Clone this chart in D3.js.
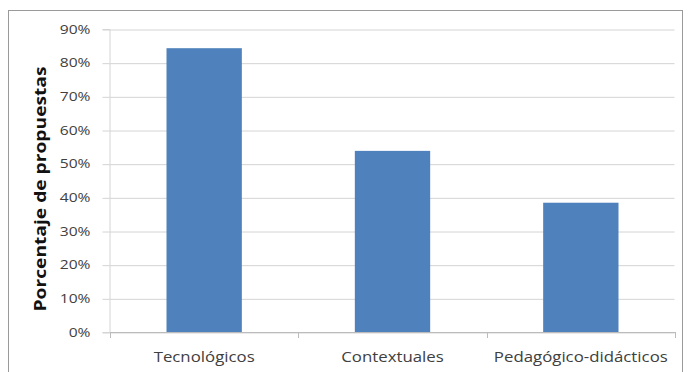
<!DOCTYPE html>
<html>
<head>
<meta charset="utf-8">
<script src="https://cdn.jsdelivr.net/npm/d3@7"></script>
<style>
  html, body { margin: 0; padding: 0; background: #fff; }
  svg { display: block; }
</style>
</head>
<body>
<svg id="chart" width="688" height="372"></svg>
<script>
// Categories and share of proposals in each
const categories = ["Tecnológicos", "Contextuales", "Pedagógico-didácticos"];
const values = [0.843, 0.538, 0.384];
const yTicks = [0, 0.1, 0.2, 0.3, 0.4, 0.5, 0.6, 0.7, 0.8, 0.9];
const yTitle = "Porcentaje de propuestas";

const svg = d3.select("#chart");
const plot = { left: 110, right: 675, top: 29, bottom: 332 };
const FONT = "'Open Sans', sans-serif";

// Widen text slightly to the chart's wide label face
function widen(sel, factor) {
  sel.each(function () {
    const w = this.getComputedTextLength();
    d3.select(this)
      .attr("textLength", w * factor)
      .attr("lengthAdjust", "spacingAndGlyphs");
  });
}

// Outer chart frame
svg.append("rect")
  .attr("x", 8.5).attr("y", 10.5)
  .attr("width", 674).attr("height", 372)
  .attr("fill", "#fff")
  .attr("stroke", "#9a9a9a")
  .attr("stroke-width", 1);

const x = d3.scaleBand()
  .domain(categories)
  .range([plot.left, plot.right])
  .paddingInner(0.6)
  .paddingOuter(0.3);

const y = d3.scaleLinear()
  .domain([0, 0.9])
  .range([plot.bottom, plot.top]);

// Horizontal gridlines with short outer ticks
const yAxis = d3.axisLeft(y)
  .tickValues(yTicks)
  .tickFormat(d3.format(".0%"))
  .tickSize(7)
  .tickPadding(12);

const gy = svg.append("g")
  .attr("transform", `translate(${plot.left - 0.5},0)`)
  .call(yAxis);
gy.select(".domain").attr("stroke", "#d4d4d4");
gy.selectAll(".tick line").attr("stroke", "#d4d4d4").attr("transform", "translate(0,0.5)");
gy.selectAll(".tick line").clone()
  .attr("x1", 0).attr("x2", plot.right - plot.left)
  .attr("stroke", "#d4d4d4");
gy.selectAll(".tick text")
  .attr("fill", "#404040")
  .attr("font-family", FONT)
  .attr("font-size", 13)
  .call(widen, 1.2);

// Bars
svg.append("g").selectAll("rect")
  .data(categories)
  .join("rect")
  .attr("x", d => x(d))
  .attr("width", x.bandwidth())
  .attr("y", (d, i) => y(values[i]))
  .attr("height", (d, i) => y(0) - y(values[i]))
  .attr("fill", "#4f81bd");

// Category axis with boundary ticks
const bounds = d3.range(categories.length + 1).map(i => plot.left + i * (plot.right - plot.left) / categories.length);
const gx = svg.append("g");
gx.append("line")
  .attr("x1", plot.left).attr("x2", plot.right)
  .attr("y1", plot.bottom + 0.5).attr("y2", plot.bottom + 0.5)
  .attr("stroke", "#bcbcbc");
gx.selectAll("line.bt")
  .data(bounds)
  .join("line")
  .attr("class", "bt")
  .attr("x1", d => Math.round(d) + 0.5).attr("x2", d => Math.round(d) + 0.5)
  .attr("y1", plot.bottom).attr("y2", plot.bottom + 6)
  .attr("stroke", "#bcbcbc");
gx.selectAll("text")
  .data(categories)
  .join("text")
  .attr("x", d => x(d) + x.bandwidth() / 2)
  .attr("y", 362)
  .attr("text-anchor", "middle")
  .attr("fill", "#404040")
  .attr("font-family", FONT)
  .attr("font-size", 14)
  .text(d => d)
  .call(widen, 1.2);

// Y axis title
svg.append("text")
  .attr("transform", `translate(46,189) rotate(-90)`)
  .attr("text-anchor", "middle")
  .attr("fill", "#111")
  .attr("font-family", FONT)
  .attr("font-weight", "bold")
  .attr("font-size", 16)
  .text(yTitle)
  .call(widen, 1.2);
</script>
</body>
</html>
